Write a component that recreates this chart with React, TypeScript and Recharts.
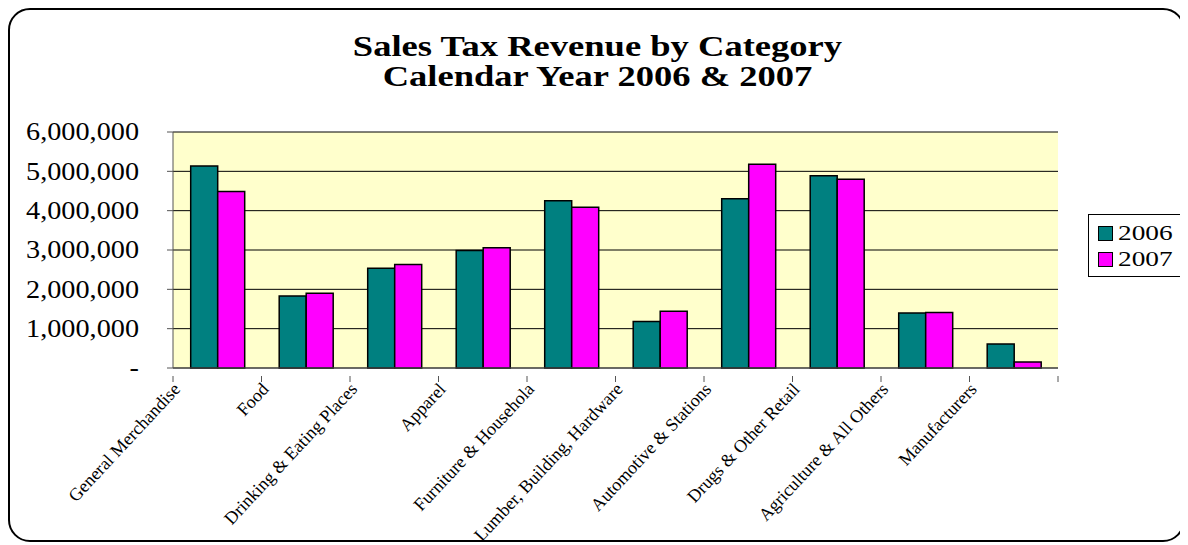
import { BarChart, Bar, XAxis, YAxis, CartesianGrid } from 'recharts'

const categories = [
  'General Merchandise',
  'Food',
  'Drinking & Eating Places',
  'Apparel',
  'Furniture & Househola',
  'Lumber, Building, Hardware',
  'Automotive & Stations',
  'Drugs & Other Retail',
  'Agriculture & All Others',
  'Manufacturers',
]

const sales2006 = [5136000, 1830000, 2535000, 2990000, 4250000, 1185000, 4300000, 4890000, 1400000, 610000]
const sales2007 = [4490000, 1900000, 2630000, 3060000, 4090000, 1440000, 5180000, 4800000, 1410000, 150000]

const yTicks = [0, 1000000, 2000000, 3000000, 4000000, 5000000, 6000000]

const seriesInfo = [
  { key: 'y2006', label: '2006', color: '#008080' },
  { key: 'y2007', label: '2007', color: '#FF00FF' },
]

const data = categories.map((name, i) => ({
  name,
  y2006: sales2006[i],
  y2007: sales2007[i],
}))

const serif = '"Liberation Serif", "Times New Roman", serif'

const fmt = (v: number) => (v === 0 ? '-' : v.toLocaleString('en-US'))

const ValueTick = ({ x, y, payload }: any) => (
  <text
    x={0}
    y={0}
    textAnchor="end"
    dominantBaseline="central"
    transform={`translate(${x - 26} ${y}) scale(1.13 1)`}
    fontFamily={serif}
    fontSize={25}
    fill="#000"
  >
    {fmt(payload.value)}
  </text>
)

const CategoryTick = ({ x, y, payload, index }: any) => {
  const half = payload?.offset ?? 44.25
  const lx = x - 36
  const ly = y + 14
  return (
    <g>
      <line x1={x - half} y1={y} x2={x - half} y2={y + 6} stroke="#555" />
      {index === categories.length - 1 && (
        <line x1={x + half} y1={y} x2={x + half} y2={y + 6} stroke="#555" />
      )}
      <text
        x={lx}
        y={ly}
        textAnchor="end"
        transform={`rotate(-47 ${lx} ${ly})`}
        fontFamily={serif}
        fontSize={18}
        fill="#000"
      >
        {payload.value}
      </text>
    </g>
  )
}

const LegendBox = () => (
  <div
    style={{
      position: 'absolute',
      left: 1078,
      top: 204,
      width: 104,
      height: 63,
      border: '1px solid #000',
      background: '#fff',
      fontFamily: serif,
      fontSize: 21,
      boxSizing: 'border-box',
      padding: '5px 0 0 9px',
      lineHeight: '26px',
    }}
  >
    {seriesInfo.map((it) => (
      <div key={it.label} style={{ display: 'flex', alignItems: 'center' }}>
        <span
          style={{
            display: 'inline-block',
            width: 13,
            height: 13,
            background: it.color,
            border: '1.5px solid #000',
            marginRight: 5,
          }}
        />
        <span style={{ display: 'inline-block', transform: 'scaleX(1.3)', transformOrigin: 'left center' }}>
          {it.label}
        </span>
      </div>
    ))}
  </div>
)

export default function App() {
  return (
    <div
      style={{
        position: 'relative',
        width: 1177,
        height: 534,
        border: '2px solid #000',
        borderRadius: 22,
        boxSizing: 'border-box',
        background: '#fff',
      }}
    >
      <div
        style={{
          position: 'absolute',
          left: 0,
          top: 21,
          width: 1176,
          textAlign: 'center',
          fontFamily: serif,
          fontWeight: 'bold',
          fontSize: 29,
          lineHeight: '30px',
          color: '#000',
          transform: 'scaleX(1.26)',
          transformOrigin: '590px 0',
        }}
      >
        <div>Sales Tax Revenue by Category</div>
        <div>Calendar Year 2006 &amp; 2007</div>
      </div>
      <div style={{ position: 'absolute', left: -2, top: -2 }}>
        <BarChart
          width={1180}
          height={537}
          data={data}
          margin={{ top: 124, right: 130, bottom: 0, left: 0 }}
          barCategoryGap="20%"
          barGap={0}
        >
          <CartesianGrid vertical={false} stroke="#000" fill="#FFFFCC" fillOpacity={1} />
          <XAxis
            dataKey="name"
            interval={0}
            height={177}
            tickLine={false}
            axisLine={{ stroke: '#555' }}
            tick={<CategoryTick />}
          />
          <YAxis
            width={165}
            domain={[0, 6000000]}
            ticks={yTicks}
            interval={0}
            tickSize={6}
            tickMargin={2}
            axisLine={{ stroke: '#555' }}
            tickLine={{ stroke: '#555' }}
            tick={<ValueTick />}
          />
          <YAxis
            yAxisId="r"
            orientation="right"
            width={0}
            tick={false}
            tickLine={false}
            axisLine={{ stroke: '#808080', strokeWidth: 2 }}
          />
          {seriesInfo.map((s) => (
            <Bar
              key={s.key}
              dataKey={s.key}
              fill={s.color}
              stroke="#000"
              strokeWidth={1.5}
              isAnimationActive={false}
            />
          ))}
        </BarChart>
      </div>
      <LegendBox />
    </div>
  )
}
